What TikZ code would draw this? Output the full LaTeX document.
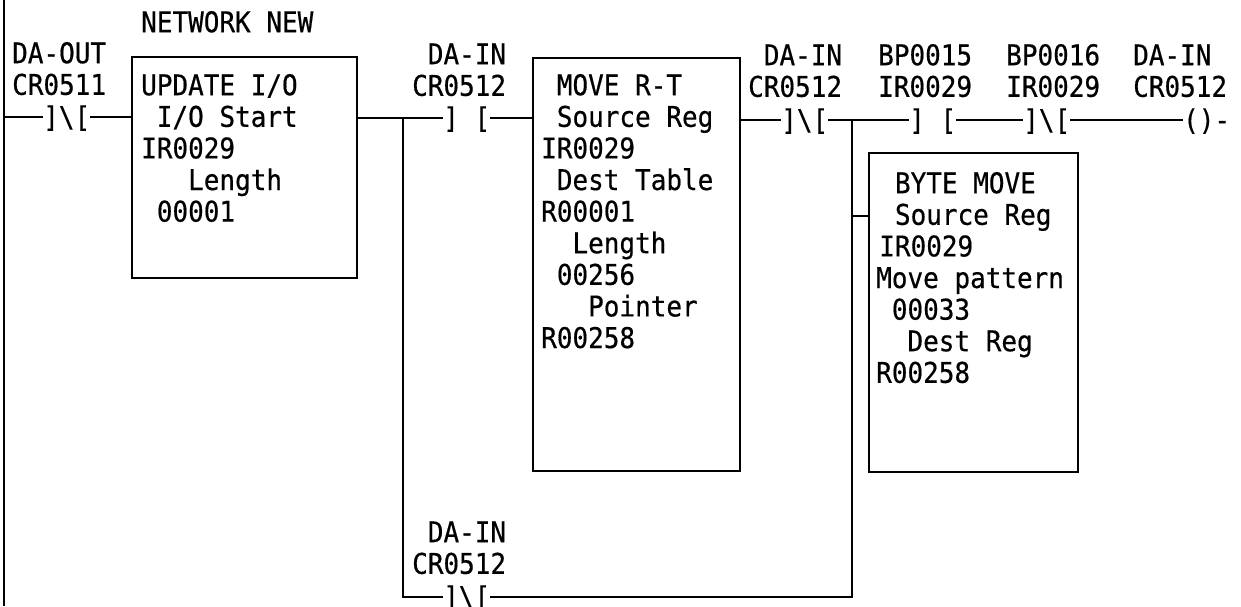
\documentclass[tikz,border=0pt]{standalone}
\usepackage{fontspec}
\setmainfont[FakeStretch=0.912,FakeBold=0.5]{DejaVu Sans Mono}
\newcommand\fl{\rule{0pt}{24pt}}
\newcommand\ind[1]{\hspace*{#1\dimexpr15.65pt\relax}}
\tikzset{
  txt/.style={font=\fontsize{28.5}{31.6}\selectfont,align=left,inner sep=0pt,anchor=north west,text=black},
  wire/.style={line width=2.2pt,black},
  contact/.style={font=\fontsize{28.5}{31.6}\selectfont,inner sep=0pt,anchor=west,text height=22pt,text depth=2pt,text=black},
  blockbox/.style={draw=black,line width=2.2pt,inner sep=0pt,anchor=north west}
}
\begin{document}
\begin{tikzpicture}[x=1pt,y=-1pt]
\useasboundingbox (0,0) rectangle (1241,606);
\fill[white] (0,0) rectangle (1241,606);
\clip (0,0) rectangle (1241,606);
% boxes
\node[blockbox,minimum width=225pt,minimum height=221pt] (b1) at (131,56) {};
\node[blockbox,minimum width=207pt,minimum height=413pt] (b2) at (532,57) {};
\node[blockbox,minimum width=209pt,minimum height=319pt] (b3) at (868,152) {};
% box texts
\node[txt] (tnet) at (141,8) {\fl NETWORK NEW};
\node[txt] (t1) at (141,71) {\fl UPDATE I/O\\\ind{1}I/O Start\\IR0029\\\ind{3}Length\\\ind{1}00001};
\node[txt] (t2) at (541,71) {\fl\ind{1}MOVE R-T\\\ind{1}Source Reg\\IR0029\\\ind{1}Dest Table\\R00001\\\ind{2}Length\\\ind{1}00256\\\ind{3}Pointer\\R00258};
\node[txt] (t3) at (876,169) {\fl\ind{1.2}BYTE MOVE\\\ind{1.2}Source Reg\\\ind{0.2}IR0029\\Move pattern\\\ind{1}00033\\\ind{2}Dest Reg\\R00258};
% labels
\node[txt] (l1) at (12,39) {\fl DA-OUT\\CR0511};
\node[txt] (l2) at (412,40) {\fl\ind{1}DA-IN\\CR0512};
\node[txt] (l3) at (748,41) {\fl\ind{1}DA-IN\\CR0512};
\node[txt] (l4) at (878,41) {\fl BP0015\\IR0029};
\node[txt] (l5) at (1006,41) {\fl BP0016\\IR0029};
\node[txt] (l6) at (1133,41) {\fl DA-IN\\CR0512};
\node[txt] (l7) at (412,518) {\fl\ind{1}DA-IN\\CR0512};
% contacts
\node[contact] (c1) at (43,117) {]\textbackslash[};
\node[contact] (c2) at (443,118) {] [};
\node[contact] (c3) at (781,120) {]\textbackslash[};
\node[contact] (c4) at (909,120) {] [};
\node[contact] (c5) at (1023,120) {]\textbackslash[};
\node[contact] (c6) at (1183,120) {()-};
\node[contact] (c7) at (443,597) {]\textbackslash[};
% junctions
\coordinate (railtop) at (4,0);
\coordinate (railbot) at (4,606);
\coordinate (j1) at (403,118);
\coordinate (j2) at (852,120);
\coordinate (j3) at (852,216);
% wires
\draw[wire] (railtop) -- (railbot);
\draw[wire] (railtop |- c1.west) -- (c1.west);
\draw[wire] (c1.east) -- (b1.west |- c1.east);
\draw[wire] (b1.east |- c2.west) -- (c2.west);
\draw[wire] (c2.east) -- (b2.west |- c2.east);
\draw[wire] (b2.east |- c3.west) -- (c3.west);
\draw[wire] (c3.east) -- (c4.west);
\draw[wire] (c4.east) -- (c5.west);
\draw[wire] (c5.east) -- (c6.west);
\draw[wire] (j1) -- (j1 |- c7.west) -- (c7.west);
\draw[wire] (c7.east) -- (j2 |- c7.east) -- (j2);
\draw[wire] (j3) -- (b3.west |- j3);
\end{tikzpicture}
\end{document}
